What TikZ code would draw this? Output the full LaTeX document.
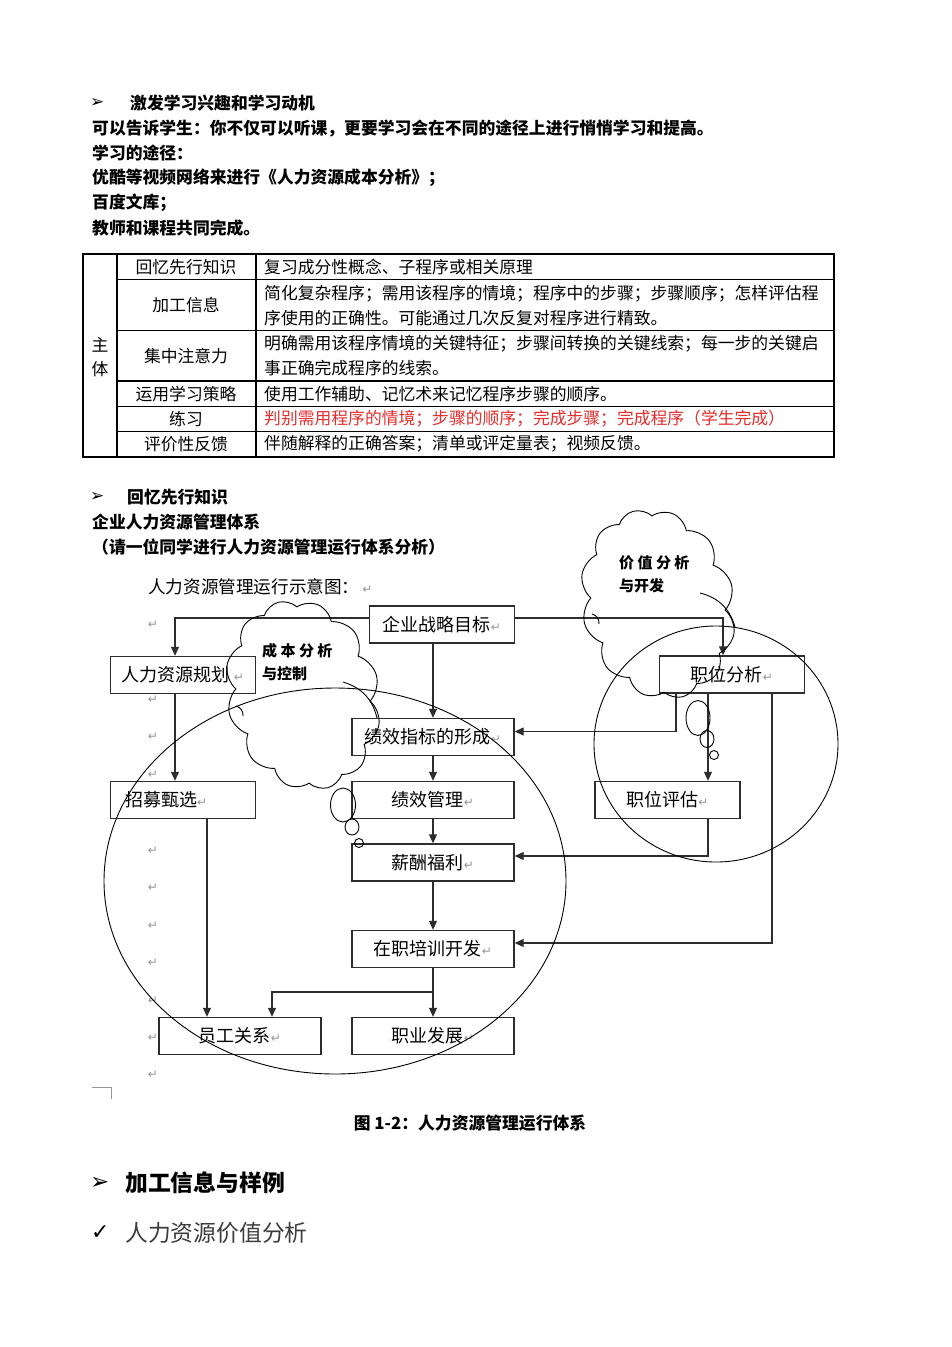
\documentclass[tikz,border=0pt]{standalone}
\usepackage{fontspec}
\setmainfont{Noto Sans CJK SC}
\newfontfamily\symfont{DejaVu Sans}
\usetikzlibrary{arrows.meta,shapes.symbols}
\definecolor{markgray}{RGB}{150,150,150}
\definecolor{boxline}{RGB}{45,45,45}
\definecolor{warnred}{RGB}{228,45,45}
\definecolor{softblack}{RGB}{60,60,60}
\newcommand\pmark{{\symfont\fontsize{12}{12}\selectfont\color{markgray}↵}}
\newcommand\bulletarrow{{\symfont\bfseries ➢}}

\begin{document}
\begin{tikzpicture}[x=1pt,y=-1pt,>={Triangle[length=9pt,width=8pt]},inner sep=0pt,
  txt/.style={anchor=west,font=\fontsize{16.8}{25.2}\selectfont},
  head/.style={anchor=west,font=\fontsize{16.8}{25.2}\selectfont\bfseries},
  cell/.style={font=\fontsize{16.8}{25.2}\selectfont},
  box/.style={draw=boxline,line width=1.4pt,minimum width=145pt,minimum height=37pt,font=\fontsize{18}{18}\selectfont},
  widebox/.style={box,minimum width=162pt},
  flow/.style={->,line width=1.1pt,draw=boxline},
  ring/.style={line width=0.9pt},
  thought/.style={cloud,draw,line width=0.9pt,cloud puffs=12,cloud puff arc=115,cloud ignores aspect,minimum width=152pt,minimum height=192pt,rotate=15},
  cloudtxt/.style={anchor=west,font=\fontsize{15}{23}\selectfont\bfseries,align=left},
  rule/.style={line width=1.3pt}]
  \useasboundingbox (0,0) rectangle (952,1347);
  \fill[white] (0,0) rectangle (952,1347);

  % opening lines
  \node[anchor=west,font=\fontsize{17}{17}\selectfont] (arr1) at (90,103) {\bulletarrow};
  \node[head] (motive) at (130,103) {激发学习兴趣和学习动机};
  \node[head] (tell) at (92,128) {可以告诉学生：你不仅可以听课，更要学习会在不同的途径上进行悄悄学习和提高。};
  \node[head] (ways) at (92,153) {学习的途径：};
  \node[head] (youku) at (92,178) {优酷等视频网络来进行《人力资源成本分析》；};
  \node[head] (baidu) at (92,203) {百度文库；};
  \node[head] (teach) at (92,228) {教师和课程共同完成。};

  % table
  \draw[line width=1.8pt] (83,254) rectangle (834,457);
  \draw[rule] (117,254) -- (117,457) (256,254) -- (256,457);
  \foreach \y in {279.5,330.5,381,406.5,431.5}
    \draw[rule] (117,\y) -- (834,\y);
  \node[cell] (zhu) at (100,345) {主};
  \node[cell] (ti) at (100,369) {体};
  \node[cell] (recall) at (186,267) {回忆先行知识};
  \node[cell] (process) at (186,305) {加工信息};
  \node[cell] (focus) at (186,356) {集中注意力};
  \node[cell] (strategy) at (186,394) {运用学习策略};
  \node[cell] (practice) at (186,419) {练习};
  \node[cell] (feedback) at (186,444) {评价性反馈};
  \node[txt] (recalltxt) at (264,267) {复习成分性概念、子程序或相关原理};
  \node[txt,align=left] (processtxt) at (264,305.5) {简化复杂程序；需用该程序的情境；程序中的步骤；步骤顺序；怎样评估程\\序使用的正确性。可能通过几次反复对程序进行精致。};
  \node[txt,align=left] (focustxt) at (264,356) {明确需用该程序情境的关键特征；步骤间转换的关键线索；每一步的关键启\\事正确完成程序的线索。};
  \node[txt] (strategytxt) at (264,394) {使用工作辅助、记忆术来记忆程序步骤的顺序。};
  \node[txt,text=warnred] (practicetxt) at (264,419) {判别需用程序的情境；步骤的顺序；完成步骤；完成程序（学生完成）};
  \node[txt] (feedbacktxt) at (264,444) {伴随解释的正确答案；清单或评定量表；视频反馈。};

  % second part
  \node[anchor=west,font=\fontsize{17}{17}\selectfont] (arr2) at (90,497) {\bulletarrow};
  \node[head] (recallhead) at (127,497) {回忆先行知识};
  \node[head] (system) at (92,522) {企业人力资源管理体系};
  \node[head] (ask) at (92,547) {（请一位同学进行人力资源管理运行体系分析）};
  \node[anchor=west,font=\fontsize{17.6}{18}\selectfont] (chart) at (148,587) {人力资源管理运行示意图：\,\pmark};

  % empty paragraph marks
  \foreach \y in {625,700,737,775,851,888,926,963,1001,1038,1075}
    \node (pm\y) at (153,\y) {\pmark};
  \draw[markgray,line width=0.9pt] (92,1087) -- (111,1087) -- (111,1099);

  % boxes
  \node[box] (goal) at (442,624.5) {企业战略目标\pmark};
  \node[box] (plan) at (183,675) {人力资源规划 \pmark};
  \node[box] (jobana) at (732,674.5) {职位分析\pmark};
  \node[widebox] (kpi) at (433,737) {绩效指标的形成\pmark};
  \node[box,text width=116pt,align=left] (recruit) at (183,800) {招募甄选\pmark};
  \node[widebox] (perf) at (433,800) {绩效管理\pmark};
  \node[box] (jobeval) at (667.5,800) {职位评估\pmark};
  \node[widebox] (pay) at (433,862.5) {薪酬福利\pmark};
  \node[widebox] (train) at (433,949) {在职培训开发\pmark};
  \node[widebox] (rel) at (240,1036) {员工关系\pmark};
  \node[widebox] (career) at (433,1036) {职业发展\pmark};
  \coordinate (split) at (433,992);

  % connectors
  \draw[flow] ([yshift=6.5pt]goal.west) -| ([xshift=-8pt]plan.north);
  \draw[flow] ([yshift=6.5pt]goal.east) -| ([xshift=-9pt]jobana.north);
  \draw[flow] (kpi.north |- goal.south) -- (kpi.north);
  \draw[flow] ([xshift=-8pt]plan.south) -- ([xshift=-8pt]recruit.north);
  \draw[flow] (kpi) -- (perf);
  \draw[flow] (perf) -- (pay);
  \draw[flow] (pay) -- (train);
  \draw[flow] (train) -- (career);
  \draw[flow] (split) -| ([xshift=32pt]rel.north);
  \draw[flow] ([xshift=24pt]recruit.south) -- ([xshift=24pt]recruit.south |- rel.north);
  \draw[flow] ([xshift=-56pt]jobana.south) |- ([yshift=5.5pt]kpi.east);
  \draw[flow] ([xshift=-24pt]jobana.south) -- ([xshift=-24pt]jobana.south |- jobeval.north);
  \draw[flow] ([xshift=40.5pt]jobeval.south) |- ([yshift=6.5pt]pay.east);
  \draw[flow] ([xshift=40pt]jobana.south) |- ([yshift=6pt]train.east);

  % circles
  \draw[ring] (335,881) ellipse (231pt and 193pt);
  \draw[ring] (716,744) ellipse (122pt and 118pt);

  % thought clouds
  \node[thought] (costcloud) at (303,695) {};
  \draw[ring] (343,682) to[bend left=30] (377,718);
  \draw[ring] (236,706) to[bend left=40] (243,716);
  \node[cloudtxt] (costtxt) at (262,662) {成 本 分 析\\与控制};
  \draw[ring] (343,805) ellipse (12.5pt and 17pt);
  \draw[ring] (352,827) ellipse (7pt and 8pt);
  \draw[ring] (359,843) ellipse (4.5pt and 4.5pt);

  \node[thought] (valuecloud) at (658,604) {};
  \draw[ring] (700,593) to[bend left=30] (735,627);
  \draw[ring] (592,614) to[bend left=40] (599,624);
  \node[cloudtxt] (valuetxt) at (619,574) {价 值 分 析\\与开发};
  \draw[ring] (698,718) ellipse (12pt and 17.5pt);
  \draw[ring] (707,739) ellipse (7pt and 8.5pt);
  \draw[ring] (714,755) ellipse (4.5pt and 4.5pt);

  % caption and closing lines
  \node[font=\fontsize{16.8}{17}\selectfont\bfseries] (caption) at (470,1123) {图 1-2：人力资源管理运行体系};
  \node[anchor=west,font=\fontsize{23}{23}\selectfont] (arr3) at (90,1183) {\bulletarrow};
  \node[anchor=west,font=\fontsize{22.8}{23}\selectfont\bfseries] (examples) at (125,1183) {加工信息与样例};
  \node[anchor=west,font=\fontsize{22}{22}\selectfont] (tick) at (91,1233) {{\symfont\bfseries ✓}};
  \node[anchor=west,font=\fontsize{22.8}{23}\selectfont,text=softblack] (valuehead) at (125,1233) {人力资源价值分析};
\end{tikzpicture}
\end{document}
